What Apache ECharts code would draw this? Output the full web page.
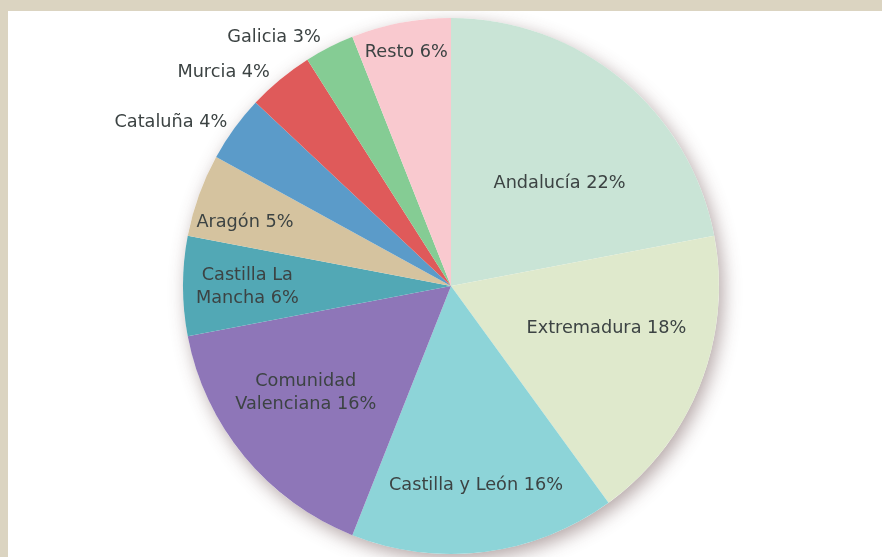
<!DOCTYPE html>
<html>
<head>
<meta charset="utf-8">
<script src="https://cdn.jsdelivr.net/npm/echarts@6/dist/echarts.min.js"></script>
<style>
  html, body { margin: 0; padding: 0; background: #dbd4c1; }
  #chart { position: absolute; left: 8px; top: 11px; width: 874px; height: 546px; background: #fff; }
</style>
</head>
<body>
<div id="chart"></div>
<script>
  // datos: reparto por comunidades (%)
  const regions = ['Andalucía', 'Extremadura', 'Castilla y León', 'Comunidad\nValenciana', 'Castilla La\nMancha',
    'Aragón', 'Cataluña', 'Murcia', 'Galicia', 'Resto']
  const shares = [22, 18, 16, 16, 6, 5, 4, 4, 3, 6]

  const colors = ['#c9e4d6', '#dfe9cc', '#8dd4d8', '#8e76b8', '#52a8b5',
    '#d5c39f', '#5b9bc9', '#df5a5a', '#85cc94', '#f9c9cf']

  // colocación de etiquetas: fracción del radio y giro (grados) respecto al ángulo medio
  const labelR = [0.56, 0.6, 0.745, 0.67, 0.76, 0.806, 1.037, 1.049, 1.052, 0.89]
  const labelTurn = [6.7, -6.8, 0, 3.6, 0, -2.3, 0.4, -0.5, -0.5, 0]
  const labelOut = [false, false, false, false, false, false, true, true, true, false]

  const cx = 443
  const cy = 276
  const R = 268

  const total = shares.reduce((a, b) => a + b, 0)
  const mids = []
  let acc = 0
  shares.forEach(v => {
    mids.push((acc + v / 2) / total * 360)
    acc += v
  })

  const chart = echarts.init(document.getElementById('chart'))
  chart.setOption({
    animation: false,
    series: [
      {
        // sombra bajo la tarta
        type: 'pie',
        center: [cx, cy - 1],
        radius: R,
        silent: true,
        label: { show: false },
        labelLine: { show: false },
        itemStyle: {
          color: '#fff',
          shadowBlur: 18,
          shadowColor: 'rgba(90, 60, 60, 0.45)',
          shadowOffsetX: 4,
          shadowOffsetY: 6
        },
        data: [{ value: 1 }]
      },
      {
        type: 'pie',
        center: [cx, cy - 1],
        radius: R,
        startAngle: 90,
        clockwise: true,
        avoidLabelOverlap: false,
        silent: true,
        color: colors,
        itemStyle: { borderWidth: 0 },
        label: {
          show: true,
          position: 'inside',
          formatter: p => p.name + ' ' + p.value + '%',
          fontFamily: 'DejaVu Sans, sans-serif',
          fontSize: 17.7,
          lineHeight: 23,
          color: '#3c4343'
        },
        labelLine: { show: false },
        labelLayout: function (p) {
          const i = p.dataIndex
          const a = (mids[i] + labelTurn[i]) * Math.PI / 180
          const r = R * labelR[i]
          return {
            x: cx + r * Math.sin(a),
            y: cy - r * Math.cos(a),
            align: labelOut[i] ? 'right' : 'center',
            verticalAlign: 'middle'
          }
        },
        data: regions.map((name, i) => ({ name: name, value: shares[i] }))
      }
    ]
  })
</script>
</body>
</html>
